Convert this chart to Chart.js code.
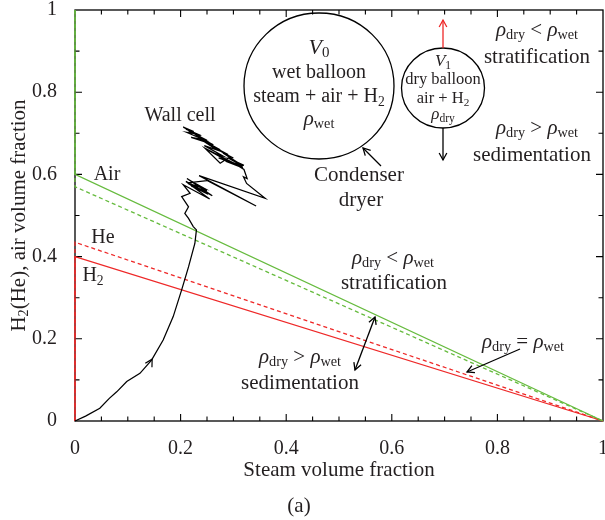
<!DOCTYPE html>
<html>
<head>
<meta charset="utf-8">
<script src="https://cdn.jsdelivr.net/npm/chart.js@4"></script>
<style>
  html, body { margin: 0; padding: 0; background: #fff; }
  #wrap { width: 605px; height: 520px; }
</style>
</head>
<body>
<div id="wrap"><canvas id="myChart" width="605" height="520"></canvas></div>
<script>
// data
var airX = [0, 0, 1];
var airY = [1, 0.6, 0];
var airDashX = [0, 0, 1];
var airDashY = [1, 0.57, 0];
var heX = [0, 0, 1];
var heY = [0, 0.435, 0];
var h2X = [0, 0, 1];
var h2Y = [0, 0.4, 0];

// wall cell trajectory
var wallX = [0, 0.02, 0.047, 0.065, 0.079, 0.098, 0.123, 0.145, 0.167, 0.186, 0.202, 0.215, 0.227, 0.230,
  0.224, 0.215, 0.208, 0.215, 0.202, 0.218,
  0.205, 0.255, 0.21, 0.26, 0.212, 0.25, 0.218, 0.245, 0.214, 0.252, 0.22, 0.24, 0.216, 0.25,
  0.343, 0.235, 0.36, 0.325, 0.319, 0.326,
  0.32, 0.30, 0.318, 0.29, 0.312, 0.28, 0.30, 0.27, 0.29, 0.255, 0.275, 0.24, 0.262, 0.228, 0.25,
  0.215, 0.238, 0.205, 0.225, 0.21, 0.232, 0.212, 0.245, 0.22, 0.258, 0.235, 0.268, 0.245, 0.28,
  0.262, 0.29, 0.272, 0.305, 0.285, 0.318, 0.246, 0.275, 0.29, 0.32];
var wallY = [0, 0.012, 0.031, 0.055, 0.071, 0.096, 0.116, 0.148, 0.197, 0.254, 0.319, 0.375, 0.432, 0.465,
  0.473, 0.493, 0.505, 0.521, 0.546, 0.554,
  0.575, 0.54, 0.583, 0.548, 0.59, 0.56, 0.585, 0.566, 0.578, 0.552, 0.572, 0.56, 0.58, 0.585,
  0.523, 0.597, 0.542, 0.578, 0.594, 0.59,
  0.612, 0.628, 0.62, 0.64, 0.626, 0.652, 0.64, 0.66, 0.648, 0.672, 0.66, 0.685, 0.672, 0.695, 0.683,
  0.706, 0.693, 0.715, 0.704, 0.71, 0.698, 0.702, 0.684, 0.69, 0.674, 0.688, 0.66, 0.67, 0.645,
  0.652, 0.632, 0.64, 0.624, 0.632, 0.616, 0.664, 0.627, 0.64, 0.622];

var tickValues = [0, 0.2, 0.4, 0.6, 0.8, 1];

var green = 'rgb(102,187,62)';
var red = 'rgb(238,40,40)';
var ink = '#231f20';
var serif = '"Liberation Serif", "DejaVu Serif", serif';

function pts(xs, ys) {
  var out = [];
  for (var i = 0; i < xs.length; i++) out.push({x: xs[i], y: ys[i]});
  return out;
}

// draws text with italic / subscript pieces
function rich(ctx, x, y, parts, size, align) {
  var w = 0;
  for (var i = 0; i < parts.length; i++) {
    var p = parts[i];
    var s = p.s ? size * 0.68 : size;
    ctx.font = (p.i ? 'italic ' : '') + s + 'px ' + serif;
    p.w = ctx.measureText(p.t).width;
    w += p.w;
  }
  var cx = align === 'left' ? x : x - w / 2;
  ctx.textAlign = 'left';
  ctx.textBaseline = 'middle';
  ctx.fillStyle = ink;
  for (var j = 0; j < parts.length; j++) {
    var q = parts[j];
    var s2 = q.s ? size * 0.68 : size;
    ctx.font = (q.i ? 'italic ' : '') + s2 + 'px ' + serif;
    ctx.fillText(q.t, cx, y + (q.s ? size * 0.25 : 0));
    cx += q.w;
  }
}

function rho(sub) { return [{t: 'ρ', i: 1}, {t: sub, s: 1}]; }

function arrow(ctx, x1, y1, x2, y2, both, color) {
  ctx.save();
  ctx.strokeStyle = color || '#000';
  ctx.lineWidth = 1.3;
  ctx.beginPath();
  ctx.moveTo(x1, y1);
  ctx.lineTo(x2, y2);
  ctx.stroke();
  head(ctx, x1, y1, x2, y2);
  if (both) head(ctx, x2, y2, x1, y1);
  ctx.restore();
}
function head(ctx, x1, y1, x2, y2) {
  var a = Math.atan2(y2 - y1, x2 - x1), L = 8, h = 0.5;
  ctx.beginPath();
  ctx.moveTo(x2 - L * Math.cos(a - h), y2 - L * Math.sin(a - h));
  ctx.lineTo(x2, y2);
  ctx.lineTo(x2 - L * Math.cos(a + h), y2 - L * Math.sin(a + h));
  ctx.stroke();
}

var frame = {
  id: 'frame',
  beforeDatasetsDraw: function(chart) {
    var ctx = chart.ctx, a = chart.chartArea;
    var xs = chart.scales.x, ys = chart.scales.y;
    ctx.save();
    ctx.strokeStyle = '#000';
    ctx.lineWidth = 1.3;
    ctx.strokeRect(a.left, a.top, a.right - a.left, a.bottom - a.top);
    ctx.lineWidth = 1.1;
    ctx.beginPath();
    for (var i = 1; i < 20; i++) {
      var px = xs.getPixelForValue(i / 20);
      var len = i % 4 === 0 ? 7 : 4.5;
      ctx.moveTo(px, a.bottom); ctx.lineTo(px, a.bottom - len);
      ctx.moveTo(px, a.top); ctx.lineTo(px, a.top + len);
    }
    for (var k = 1; k < 10; k++) {
      var py = ys.getPixelForValue(k / 10);
      var l2 = k % 2 === 0 ? 7 : 4.5;
      ctx.moveTo(a.left, py); ctx.lineTo(a.left + l2, py);
      ctx.moveTo(a.right, py); ctx.lineTo(a.right - l2, py);
    }
    ctx.stroke();
    ctx.restore();
  },
  afterDraw: function(chart) {
    var ctx = chart.ctx, a = chart.chartArea;
    var xs = chart.scales.x, ys = chart.scales.y;
    ctx.save();

    // direction arrow on trajectory
    var ax = xs.getPixelForValue(wallX[7]), ay = ys.getPixelForValue(wallY[7]);
    var bx = xs.getPixelForValue(wallX[8]), by = ys.getPixelForValue(wallY[8]);
    ctx.strokeStyle = '#000';
    ctx.lineWidth = 1.2;
    head(ctx, ax - (bx - ax) * 0.1, ay - (by - ay) * 0.1, ax + (bx - ax) * 0.05, ay + (by - ay) * 0.05);

    // balloons
    ctx.lineWidth = 1.3;
    ctx.beginPath();
    ctx.ellipse(319, 86, 75, 73, 0, 0, Math.PI * 2);
    ctx.stroke();
    ctx.beginPath();
    ctx.ellipse(443, 88, 41.5, 40, 0, 0, Math.PI * 2);
    ctx.stroke();
    arrow(ctx, 443, 48, 443, 20, false, red);
    arrow(ctx, 443, 128, 443, 160, false, '#000');
    arrow(ctx, 381, 166, 363, 148, false, '#000');
    arrow(ctx, 375, 317, 355, 370, true, '#000');
    arrow(ctx, 520, 349, 467, 372, false, '#000');

    rich(ctx, 319, 48, [{t: 'V', i: 1}, {t: '0', s: 1}], 22);
    rich(ctx, 319, 73, [{t: 'wet balloon'}], 20);
    rich(ctx, 319, 97, [{t: 'steam + air + H'}, {t: '2', s: 1}], 20);
    rich(ctx, 319, 119, rho('wet'), 21);

    rich(ctx, 443, 62, [{t: 'V', i: 1}, {t: '1', s: 1}], 17);
    rich(ctx, 443, 80, [{t: 'dry balloon'}], 16.5);
    rich(ctx, 443, 99, [{t: 'air + H'}, {t: '2', s: 1}], 16.5);
    rich(ctx, 443, 115, rho('dry'), 17);

    rich(ctx, 537, 30, rho('dry').concat([{t: ' < '}], rho('wet')), 21);
    rich(ctx, 537, 57, [{t: 'stratification'}], 21);
    rich(ctx, 537, 128, rho('dry').concat([{t: ' > '}], rho('wet')), 21);
    rich(ctx, 532, 155, [{t: 'sedimentation'}], 21);

    rich(ctx, 180, 116, [{t: 'Wall cell'}], 20);
    rich(ctx, 359, 175, [{t: 'Condenser'}], 21);
    rich(ctx, 361, 200, [{t: 'dryer'}], 21);

    rich(ctx, 393, 258, rho('dry').concat([{t: ' < '}], rho('wet')), 21);
    rich(ctx, 394, 283, [{t: 'stratification'}], 21);
    rich(ctx, 300, 357, rho('dry').concat([{t: ' > '}], rho('wet')), 21);
    rich(ctx, 300, 383, [{t: 'sedimentation'}], 21);
    rich(ctx, 523, 342, rho('dry').concat([{t: ' = '}], rho('wet')), 21);

    rich(ctx, 107, 175, [{t: 'Air'}], 20);
    rich(ctx, 103, 238, [{t: 'He'}], 20);
    rich(ctx, 93, 276, [{t: 'H'}, {t: '2', s: 1}], 20);

    rich(ctx, (a.left + a.right) / 2, 470, [{t: 'Steam volume fraction'}], 21);
    rich(ctx, 299, 506, [{t: '(a)'}], 21);

    ctx.save();
    ctx.translate(19, (a.top + a.bottom) / 2);
    ctx.rotate(-Math.PI / 2);
    rich(ctx, 0, 0, [{t: 'H'}, {t: '2', s: 1}, {t: '(He), air volume fraction'}], 21);
    ctx.restore();

    ctx.restore();
  }
};

function line(xs, ys, color, dash, w) {
  return {
    data: pts(xs, ys),
    showLine: true,
    borderColor: color,
    backgroundColor: color,
    borderWidth: w || 1.3,
    borderDash: dash || [],
    pointRadius: 0,
    tension: 0,
    clip: false
  };
}

new Chart(document.getElementById('myChart'), {
  type: 'scatter',
  data: {
    datasets: [
      line(wallX, wallY, '#000', null, 1.25),
      line(airDashX, airDashY, green, [4, 3]),
      line(airX, airY, green),
      line(heX, heY, red, [4, 3]),
      line(h2X, h2Y, red)
    ]
  },
  options: {
    responsive: false,
    animation: false,
    layout: { padding: { top: 10, right: 2, left: 0, bottom: 0 } },
    plugins: { legend: { display: false }, tooltip: { enabled: false } },
    scales: {
      x: {
        type: 'linear', min: 0, max: 1,
        grid: { display: false },
        border: { display: false },
        afterBuildTicks: function(s) { s.ticks = tickValues.map(function(v) { return {value: v}; }); },
        afterFit: function(s) { s.height = 99; s.paddingLeft = 0; s.paddingRight = 0; },
        ticks: {
          padding: 8, maxRotation: 0, autoSkip: false, color: ink,
          font: { family: serif, size: 20 },
          callback: function(v) { return String(+v.toFixed(1)); }
        }
      },
      y: {
        type: 'linear', min: 0, max: 1,
        grid: { display: false },
        border: { display: false },
        afterBuildTicks: function(s) { s.ticks = tickValues.map(function(v) { return {value: v}; }); },
        afterFit: function(s) { s.width = 75; s.paddingTop = 0; s.paddingBottom = 0; },
        ticks: {
          padding: 10, color: ink,
          font: { family: serif, size: 20 },
          callback: function(v) { return String(+v.toFixed(1)); }
        }
      }
    }
  },
  plugins: [frame]
});
</script>
</body>
</html>
